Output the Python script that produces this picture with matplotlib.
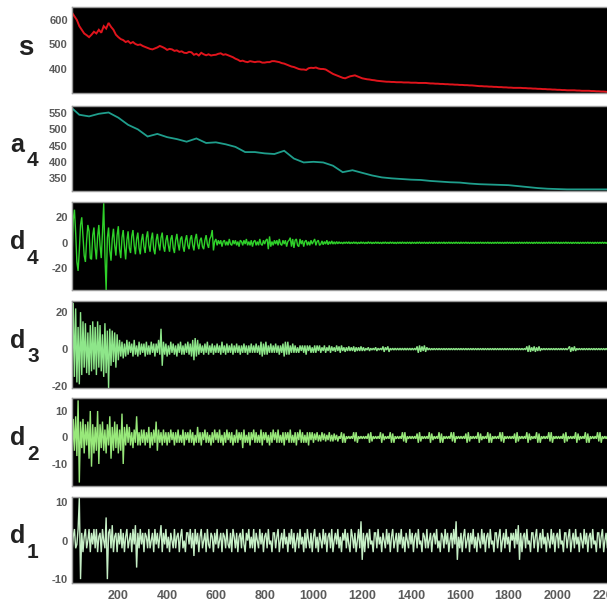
import numpy as np
import matplotlib
matplotlib.use("Agg")
import matplotlib.pyplot as plt

# ---------------- data ----------------
# signal s, sampled every 10 samples starting at 0
s_vals = [645, 630, 615, 600, 575, 560, 545, 538, 530, 540,
          552, 545, 560, 548, 575, 565, 588, 572, 560, 540,
          530, 522, 518, 510, 514, 505, 510, 502, 498, 500,
          494, 490, 486, 482, 480, 484, 488, 494, 490, 485,
          478, 482, 480, 474, 476, 470, 472, 466, 465, 470,
          468, 458, 462, 455, 466, 460, 456, 460, 455, 457,
          458, 462, 464, 458, 460, 456, 452, 448, 442, 438,
          432, 434, 430, 428, 432, 430, 428, 430, 430, 426,
          426, 428, 428, 432, 432, 430, 428, 424, 422, 418,
          414, 410, 408, 404, 400, 398, 398, 396, 403, 405,
          404, 406, 402, 400, 400, 398, 392, 386, 380, 376,
          372, 368, 364, 362, 366, 370, 372, 374, 370, 366,
          362, 360, 358, 357, 355, 354, 352, 351, 350, 349,
          348, 348, 347, 347, 346, 346, 346, 345, 345, 345,
          344, 344, 344, 343, 343, 343, 343, 342, 341, 341,
          340, 340, 339, 339, 338, 338, 337, 337, 336, 336,
          335, 335, 334, 334, 333, 333, 332, 331, 330, 330,
          329, 329, 328, 328, 327, 327, 326, 326, 325, 325,
          324, 324, 323, 323, 323, 323, 322, 322, 321, 321,
          320, 320, 319, 319, 318, 318, 317, 317, 316, 316,
          315, 315, 314, 314, 313, 313, 313, 313, 312, 312,
          311, 311, 311, 311, 310, 310, 309, 309, 308, 308,
          307, 306]

# approximation a4, sampled every 40 samples starting at 0
a4_vals = [572, 545, 540, 548, 552, 536, 514, 500, 478, 486,
           476, 470, 462, 472, 458, 460, 454, 446, 430, 430,
           426, 424, 434, 410, 398, 400, 398, 388, 368, 374,
           366, 358, 352, 349, 347, 345, 344, 341, 339, 337,
           336, 333, 331, 330, 329, 328, 325, 322, 319, 317,
           316, 315, 315, 315, 315, 315]

# details d4, d3, d2, d1, sampled every 5 samples starting at 5
d4_vals = [-30, -12, 18, 26, 8, -15, -22, -6, 14, 20, 5, -10, -15, 2, 14, 9, -12, -13, 6, 12,
           -4, -13, 5, 14, -2, -12, 8, 31, -10, -37, 4, 12, -6, -14, 3, 11, -2, -10, 6, 13,
           -5, -12, 4, 10, -3, -13, 2, 9, -4, -8, 5, 10, -2, -9, 3, 8, -4, -9, 2, 7,
           -3, -8, 4, 9, -2, -7, 3, 8, -5, -9, 2, 7, -1, -6, 4, 8, -3, -7, 2, 6,
           -2, -7, 3, 6, -4, -8, 2, 7, -1, -6, 3, 5, -3, -7, 2, 6, -2, -5, 3, 6,
           -2, -6, 3, 7, -1, -5, 2, 4, -3, -5, 2, 6, -1, -4, 3, 5, 10, -6, 1, 3,
           -2, 2, -1, 2, -3, 1, 2, -2, 1, -2, 3, -1, -2, 2, -1, 2, -2, 1, -3, 2,
           1, -2, 2, -1, 3, -2, 1, -2, 2, -3, 1, 2, -2, 1, -2, 3, -1, -2, 2, -1,
           2, 3, -5, 5, -3, 1, -2, 2, -1, 2, -2, 3, -1, -2, 2, -1, 2, -3, 1, 2,
           4, -3, 3, -4, 2, 3, -2, -3, 3, -1, 2, -3, 1, 2, -2, 1, -2, 2, -1, 1,
           3, -2, 1, 2, -2, -1, 1.5, -1.5, 1, -1, 2, -1.5, 1, -1, 1.5, -1, 0.8, -1, 1, -0.8,
           0.8, -0.6, 0.5, -0.8, 0.6, -0.5, 0.7, -0.6, 0.8, -0.7, 0.5, -0.6, 0.7, -0.5, 0.6, -0.8, 0.5, -0.6, 0.7, -0.5,
           0.6, -0.7, 0.5, -0.6, 0.8, -0.5, 0.6, -0.7, 0.5, -0.6, 0.7, -0.5, 0.6, -0.6, 0.5, -0.7, 0.6, -0.5, 0.7, -0.6,
           0.5, -0.6, 0.7, -0.5, 0.6, -0.6, 0.5, -0.7, 0.6, -0.5, 0.6, -0.6, 0.7, -0.5, 0.5, -0.6, 0.6, -0.5, 0.6, -0.7,
           0.6, -0.5, 0.5, -0.6, 0.6, -0.5, 0.7, -0.6, 0.5, -0.5, 0.6, -0.6, 0.5, -0.6, 0.6, -0.5, 0.5, -0.6, 0.6, -0.5,
           0.5, -0.6, 0.6, -0.5, 0.5, -0.5, 0.6, -0.6, 0.5, -0.5, 0.6, -0.5, 0.5, -0.6, 0.5, -0.5, 0.6, -0.5, 0.5, -0.6,
           0.6, -0.5, 0.5, -0.5, 0.6, -0.5, 0.5, -0.6, 0.5, -0.5, 0.5, -0.6, 0.6, -0.5, 0.5, -0.5, 0.6, -0.5, 0.5, -0.5,
           0.5, -0.5, 0.6, -0.5, 0.5, -0.6, 0.5, -0.5, 0.5, -0.5, 0.6, -0.5, 0.5, -0.5, 0.5, -0.6, 0.5, -0.5, 0.6, -0.5,
           0.5, -0.5, 0.5, -0.6, 0.5, -0.5, 0.5, -0.5, 0.6, -0.5, 0.5, -0.5, 0.5, -0.5, 0.6, -0.5, 0.5, -0.5, 0.5, -0.6,
           0.5, -0.5, 0.6, -0.5, 0.5, -0.5, 0.5, -0.6, 0.5, -0.5, 0.5, -0.5, 0.6, -0.5, 0.5, -0.5, 0.5, -0.5, 0.6, -0.5,
           0.5, -0.6, 0.5, -0.5, 0.5, -0.5, 0.6, -0.5, 0.5, -0.5, 0.5, -0.6, 0.5, -0.5, 0.5, -0.5, 0.5, -0.6, 0.5, -0.5,
           0.5, -0.5, 0.5, -0.5, 0.6, -0.5, 0.5, -0.5, 0.5, -0.6, 0.5, -0.5, 0.5, -0.5, 0.5, -0.5, 0.6, -0.5, 0.5, -0.5,
           0.5, -0.5, 0.5]

d3_vals = [18, -20, 25, -15, 22, -18, 12, -19, 20, -14, 15, -10, 14, -13, 9, -14, 13, -12, 15, -11,
           12, -14, 15, -10, 13, -12, 8, -15, 14, -13, 10, -21, 11, -9, 10, -7, 9, -10, 8, -6,
           5, -4, 4, -5, 3, -4, 5, -3, 4, -2, 3, -4, 5, -3, 2, -4, 4, -3, 3, -2,
           3, -4, 4, -3, 2, -3, 4, -2, 3, -4, 3, -2, 5, -3, 11, -9, 4, -3, 3, -4,
           2, -3, 4, -2, 3, -3, 2, -4, 3, -2, 4, -3, 2, -3, 3, -2, 4, -3, 3, -4,
           5, -6, 6, -4, 5, -3, 3, -2, 2, -3, 3, -2, 4, -3, 2, -2, 3, -3, 2, -2,
           3, -2, 2, -3, 4, -2, 2, -3, 3, -2, 2, -2, 3, -3, 2, -2, 3, -2, 2, -3,
           2, -2, 3, -2, 2, -3, 2, -2, 3, -2, 2, -2, 3, -2, 2, -3, 4, -4, 3, -3,
           4, -3, 2, -2, 3, -2, 2, -2, 3, -2, 2, -3, 2, -2, 3, -4, 4, -3, 4, -3,
           2, -2, 3, -2, 2, -2, 1, -2, 2, -1, 2, -2, 2, -3, 2, -1, 2, -2, 1, -2,
           2, -2, 2, -1, 2, -2, 1, -1, 2, -2, 1, -1, 2, -2, 1.5, -1, 1, -1.5, 2, -1,
           1.5, -2, 2, -1, 1, -1.5, 1, -1, 1.5, -1, 1, -1, 1.5, -1.5, 1, -1, 1, -1, 1.5, -1,
           1, -1, 0.5, -0.5, 1, -1, 0.5, -0.5, 0.5, -0.5, 1, -1, 0.5, -0.5, 0.5, -0.5, 1.5, -1.5, 1, -0.5,
           1.5, -1.5, 0.5, -0.5, 0.5, -0.5, 0.5, -0.5, 0.5, -0.5, 0.5, -0.5, 0.5, -0.5, 0.5, -0.5, 0.5, -0.5, 0.5, -0.5,
           0.5, -0.5, 0.5, -0.5, 1.5, -2, 2, -1.5, 1.5, -1, 2, -1.5, 1, -0.5, 0.5, -0.5, 0.4, -0.4, 0.4, -0.4,
           0.4, -0.4, 0.4, -0.4, 0.4, -0.4, 0.4, -0.4, 0.4, -0.4, 0.4, -0.4, 0.4, -0.4, 0.4, -0.4, 0.4, -0.4, 0.4, -0.4,
           0.4, -0.4, 0.4, -0.4, 0.4, -0.4, 0.4, -0.4, 0.4, -0.4, 0.4, -0.4, 0.4, -0.4, 0.4, -0.4, 0.4, -0.4, 0.4, -0.4,
           0.4, -0.4, 0.4, -0.4, 0.4, -0.4, 0.4, -0.4, 0.4, -0.4, 0.4, -0.4, 0.4, -0.4, 0.4, -0.4, 0.4, -0.4, 0.4, -0.4,
           0.4, -0.4, 0.4, -0.4, 0.4, -0.4, 0.4, -0.4, 0.4, -0.4, 0.4, -0.4, 0.4, -0.4, 1.5, -1.5, 2, -1.5, 1, -1,
           1.5, -1.5, 1, -1, 1.5, -1, 0.4, -0.4, 0.4, -0.4, 0.4, -0.4, 0.4, -0.4, 0.4, -0.4, 0.4, -0.4, 0.4, -0.4,
           0.4, -0.4, 0.4, -0.4, 0.4, -0.4, 0.4, -0.4, 0.4, 1.5, -1.5, 1, -1, 1.5, -1, 0.4, -0.4, 0.4, -0.4, 0.4,
           -0.4, 0.4, -0.4, 0.4, -0.4, 0.4, -0.4, 0.4, -0.4, 0.4, -0.4, 0.4, -0.4, 0.4, -0.4, 0.4, -0.4, 0.4, -0.4, 0.4,
           -0.4, 0.4, -0.4]

d2_vals = [6, -8, 7, -5, 8, -7, 14, -17, 6, -4, 7, -6, 5, -3, 6, -8, 10, -11, 5, -6,
           4, -5, 10, -10, 5, -4, 6, -5, 3, -6, 5, -3, 8, -8, 4, -5, 6, -4, 5, -6,
           3, -5, 9, -10, 4, -3, 5, -2, 4, -3, 2, -4, 3, -2, 8, -3, 2, -3, 3, -2,
           3, -3, 2, -2, 4, -4, 2, -3, 3, -2, 6, -5, 3, -2, 2, -3, 3, -2, 2, -3,
           2, -2, 3, -1, 2, -3, 2, -2, 3, -2, 1, -2, 3, -3, 2, -1, 2, -2, 3, -2,
           2, -3, 1, -2, 4, -2, 2, -3, 2, -1, 3, -2, 2, -2, 1, -3, 2, -2, 3, -1,
           2, -2, 3, -2, 1, -3, 2, -2, 3, -1, 2, -2, 2, -3, 1, -2, 3, -2, 2, -1,
           2, -4, 3, -2, 1, -2, 2, -3, 2, -1, 3, -2, 2, -2, 1, -2, 3, -3, 2, -1,
           2, -2, 1, -3, 2, -2, 3, -1, 2, -2, 3, -2, 1, -2, 2, -3, 2, -1, 2, -2,
           3, -2, 1, -2, 2, -3, 2, -1, 3, -2, 2, -2, 1, -2, 2, -3, 2, -1, 2, -2,
           1.5, -1, 2, -1.5, 1, -1.5, 2, -1, 1.5, -1.5, 1, -1, 2, -1.5, 1, -1.5, 1.5, -1, 1, -1.5,
           0.5, -0.5, 2, -2, 1.5, -2, 0.5, -0.5, 0.5, -0.5, 0.5, -0.5, 2, -1.5, 2, -2, 0.5, -0.5, 0.5, -0.5,
           0.5, -0.5, 0.5, -0.5, 1.5, -2, 2, -1.5, 0.5, -0.5, 0.5, -0.5, 0.5, -0.5, 2, -2, 1.5, -1, 0.5, -0.5,
           0.5, -0.5, 2, -2, 1.5, -2, 0.5, -0.5, 0.5, -0.5, 0.5, -0.5, 2, -1.5, 2, -2, 0.5, -0.5, 0.5, -0.5,
           0.5, -0.5, 0.5, -0.5, 1.5, -2, 2, -1.5, 0.5, -0.5, 0.5, -0.5, 0.5, -0.5, 2, -2, 1.5, -1, 0.5, -0.5,
           0.5, -0.5, 2, -2, 1.5, -2, 0.5, -0.5, 0.5, -0.5, 0.5, -0.5, 2, -1.5, 2, -2, 0.5, -0.5, 0.5, -0.5,
           0.5, -0.5, 0.5, -0.5, 1.5, -2, 2, -1.5, 0.5, -0.5, 0.5, -0.5, 0.5, -0.5, 2, -2, 1.5, -1, 0.5, -0.5,
           0.5, -0.5, 2, -2, 1.5, -2, 0.5, -0.5, 0.5, -0.5, 0.5, -0.5, 2, -1.5, 2, -2, 0.5, -0.5, 0.5, -0.5,
           0.5, -0.5, 0.5, -0.5, 1.5, -2, 2, -1.5, 0.5, -0.5, 0.5, -0.5, 0.5, -0.5, 2, -2, 1.5, -1, 0.5, -0.5,
           0.5, -0.5, 2, -2, 1.5, -2, 0.5, -0.5, 0.5, -0.5, 0.5, -0.5, 2, -1.5, 2, -2, 0.5, -0.5, 0.5, -0.5,
           0.5, -0.5, 0.5, -0.5, 1.5, -2, 2, -1.5, 0.5, -0.5, 0.5, -0.5, 0.5, -0.5, 2, -2, 1.5, -1, 0.5, -0.5,
           0.5, -0.5, 2, -2, 1.5, -2, 0.5, -0.5, 0.5, -0.5, 0.5, -0.5, 2, -1.5, 2, -2, 0.5, -0.5, 0.5, -0.5,
           0.5, -0.5, 0.5]

d1_vals = [2, -3, 1, 3, -2, -1, 3, 11, -10, 2, -3, 1, 3, -2, 0, 3, -3, 2, -1, 3,
           -2, 3, -3, 1, 2, -3, 3, 0, -2, 6, -10, 2, 3, -2, 4, -3, 1, 2, -3, 2,
           -1, 3, -2, 2, -3, 1, 3, -2, 0, 2, -3, 3, -1, 4, -7, 2, -2, 3, -1, 2,
           -3, 2, 1, -2, 3, -2, 0, 2, -3, 3, -1, 2, -2, 1, 4, -3, 2, -1, 3, -2,
           1, -3, 2, 0, -2, 3, -2, 1, 2, -3, 1, 3, -2, 0, -3, 2, 2, -1, 3, -2,
           2, -4, 3, -1, 2, -3, 1, 3, -2, 0, 2, -3, 3, -1, -2, 2, 1, -3, 2, -1,
           3, -2, 0, 2, -3, 2, 1, -2, 3, -1, -2, 2, -3, 3, 1, -2, 2, -3, 1, 2,
           -2, 3, -1, -3, 2, 0, 3, -2, 1, -2, 3, -3, 2, 0, -2, 3, -1, 2, -3, 1,
           2, -2, 3, -1, 0, -3, 2, 2, -2, 1, 3, -3, 0, 2, -2, 3, -1, 1, -3, 2,
           -1, 3, -2, 2, -3, 0, 2, -2, 3, -1, 1, -3, 2, -2, 3, 0, -2, 2, -3, 1,
           3, -2, 1, -3, 2, 0, -2, 3, -1, 2, -3, 1, 2, -2, 3, -3, 0, 2, -1, 3,
           -2, 1, -3, 2, 0, 3, -2, 2, -1, -3, 3, 1, -2, 2, -3, 0, 3, -2, 5, -5,
           2, -3, 1, 2, -2, 3, -1, 0, -3, 2, 2, -2, 3, -1, 1, -3, 2, 0, -2, 3,
           -1, 2, -3, 1, 3, -2, 0, 2, -3, 2, -1, 3, -2, 1, -3, 2, 0, -2, 3, -1,
           2, -3, 1, 2, -2, 3, -1, 0, -3, 2, 1, -2, 3, -2, 0, 2, -3, 1, 2, -1,
           3, -2, 0, -3, 2, 1, -2, 3, -1, 2, -3, 0, 2, -2, 3, -1, 5, -5, 1, -2,
           2, -3, 1, 3, -2, 0, 2, -3, 2, -1, 3, -2, 1, -3, 2, 0, -2, 3, -1, 2,
           -3, 1, 2, -2, 3, -1, 0, -3, 2, 2, -2, 1, 3, -3, 0, 2, -2, 3, -1, 1,
           -3, 2, 0, 2, -2, 3, -1, 4, -5, 2, -3, 1, 2, -2, 3, -1, 0, -3, 2, 2,
           -2, 1, 3, -3, 0, 2, -2, 3, -1, 1, -3, 2, 0, -2, 3, -1, 2, -3, 1, 2,
           -2, 3, -1, 0, -3, 2, 2, -2, 1, 3, -3, 0, 2, -2, 3, -1, 1, -3, 2, 0,
           -2, 3, -1, 2, -3, 1, 2, -2, 3, -1, 0, -3, 2, 2, -2, 1, 3, -3, 0, 2,
           -2, 3, -1]

x_ticks = [200, 400, 600, 800, 1000, 1200, 1400, 1600, 1800, 2000, 2200]

panels = [
    # name, subscript, values, x start, x step, colour, ylim, yticks
    ("s", "", s_vals, 0, 10, "#e0141c", (302, 653), [400, 500, 600]),
    ("a", "4", a4_vals, 0, 40, "#1f9e8c", (310, 572), [350, 400, 450, 500, 550]),
    ("d", "4", d4_vals, 5, 5, "#2fd12a", (-37, 32), [-20, 0, 20]),
    ("d", "3", d3_vals, 5, 5, "#8ee68a", (-21, 26), [-20, 0, 20]),
    ("d", "2", d2_vals, 5, 5, "#98e87a", (-18.3, 14.9), [-10, 0, 10]),
    ("d", "1", d1_vals, 5, 5, "#c6efc6", (-11, 11.3), [-10, 0, 10]),
]
line_w = [1.4, 1.3, 1.0, 1.0, 1.0, 1.0]
# panel top/bottom in pixels
tops = [7, 106, 202, 301, 398, 497]
bots = [93, 191, 290, 388, 486, 583]

W, H = 607, 606
fig = plt.figure(figsize=(W / 100, H / 100), dpi=100)
fig.patch.set_facecolor("white")

left_px = 72
for (name, sub, vals, x0, step, col, ylim, yt), lw, t, b in zip(panels, line_w, tops, bots):
    ax = fig.add_axes([left_px / W, 1 - b / H, (W - left_px + 3) / W, (b - t) / H])
    ax.set_facecolor("black")
    xs = x0 + step * np.arange(len(vals))
    ax.plot(xs, vals, color=col, lw=lw, solid_joinstyle="miter")
    ax.set_xlim(10, 2216)
    ax.set_ylim(*ylim)
    ax.set_yticks(yt)
    ax.set_yticklabels([str(v) for v in yt])
    ax.tick_params(axis="y", length=0, pad=3, labelsize=8, labelcolor="#5a5a5a")
    for lab in ax.get_yticklabels():
        lab.set_fontweight("bold")
        lab.set_family("Liberation Sans")
    for sp in ax.spines.values():
        sp.set_color("#9a9a9a")
        sp.set_linewidth(1.0)
    if name == "d" and sub == "1":
        ax.set_xticks(x_ticks)
        ax.set_xticklabels([str(v) for v in x_ticks])
        ax.tick_params(axis="x", length=0, pad=5, labelsize=9, labelcolor="#5a5a5a")
        for lab in ax.get_xticklabels():
            lab.set_fontweight("bold")
            lab.set_family("Liberation Sans")
    else:
        ax.set_xticks([])
    yc = 1 - ((t + b) / 2) / H
    if sub:
        fig.text(10 / W, yc + 4 / H, name, fontsize=18, fontweight="bold",
                 family="Liberation Sans", color="#222222", ha="left", va="center")
        fig.text(27 / W, yc - 12 / H, sub, fontsize=15, fontweight="bold",
                 family="Liberation Sans", color="#222222", ha="left", va="center")
    else:
        fig.text(18 / W, yc + 2 / H, name, fontsize=20, fontweight="bold",
                 family="Liberation Sans", color="#222222", ha="left", va="center")

fig.savefig("out.png", dpi=100, facecolor="white")
